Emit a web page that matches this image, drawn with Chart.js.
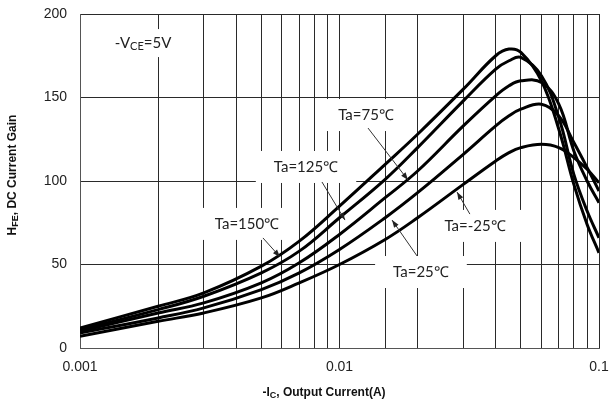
<!DOCTYPE html>
<html>
<head>
<meta charset="utf-8">
<script src="https://cdn.jsdelivr.net/npm/chart.js@4.4.1/dist/chart.umd.min.js"></script>
<style>
  html, body { margin: 0; padding: 0; background: #fff; }
  #wrap { width: 609px; height: 408px; }
</style>
</head>
<body>
<div id="wrap"><canvas id="grafico" width="609" height="408"></canvas></div>
<script>
// -Ic (A)
const corrente = [0.001, 0.002, 0.003, 0.005, 0.007, 0.01, 0.015, 0.02, 0.03, 0.04, 0.045, 0.05, 0.06, 0.07, 0.08, 0.09, 0.1];
// hFE para cada temperatura
const hfe150 = [12, 25, 33, 49, 64, 85, 110, 128, 155, 175, 179, 177, 160, 131, 98, 74, 57];
const hfe125 = [11, 23, 31, 45, 58, 78, 101, 120, 148, 167, 172, 174, 163, 138, 104, 82, 66];
const hfe75 = [10, 21, 27, 39, 51, 68, 90, 106, 133, 151, 157, 160, 159, 146, 118, 100, 87];
const hfe25 = [9, 18, 24, 35, 45, 59, 78, 93, 116, 133, 139, 143, 146, 139, 123, 108, 94];
const hfeM25 = [7, 16, 21, 30, 39, 50, 65, 78, 98, 112, 117, 120, 122, 120, 114, 107, 99];

const yTicks = [0, 50, 100, 150, 200];
const xLabels = [0.001, 0.01, 0.1];

// textos no grafico (x,y em coordenadas dos dados)
const rotulos = [
    { texto: 'Ta=75℃', x: 0.01265, y: 139.5, de: [0.01288, 131.7], para: [0.01836, 100.6] },
    { texto: 'Ta=125℃', x: 0.00743, y: 108.4, de: [0.00856, 99.4], para: [0.0105, 76.6] },
    { texto: 'Ta=150℃', x: 0.0044, y: 74.3, de: [0.00507, 65.9], para: [0.0059, 54.5] },
    { texto: 'Ta=-25℃', x: 0.0333, y: 73.1, de: [0.0318, 80.2], para: [0.02837, 93.4] },
    { texto: 'Ta=25℃', x: 0.0206, y: 45.5, de: [0.0199, 55.1], para: [0.01594, 76.6] }
];
const vce = { x: 0.00175, y: 182.6 };

function serie(valores) {
    return corrente.map((c, i) => ({ x: c, y: valores[i] }));
}

const fonteRotulo = '15px Lato';
const fonteEixo = 'bold 12px "Liberation Sans"';
const fonteSub = 'bold 9px "Liberation Sans"';

function caixa(ctx, cx, cy, w, h) {
    ctx.fillStyle = '#fff';
    ctx.fillRect(cx - w / 2, cy - h / 2, w, h);
}

function textoSub(ctx, partes, cxm, cy) {
    ctx.textAlign = 'left';
    ctx.textBaseline = 'middle';
    let total = 0;
    partes.forEach(p => { ctx.font = p[1]; total += ctx.measureText(p[0]).width; });
    let cx = cxm - total / 2;
    partes.forEach(p => {
        ctx.font = p[1];
        ctx.fillText(p[0], cx, cy + p[2]);
        cx += ctx.measureText(p[0]).width;
    });
}

const anotacoes = {
    id: 'anotacoes',
    beforeDatasetsDraw(chart) {
        const ctx = chart.ctx;
        const sx = chart.scales.x, sy = chart.scales.y;
        ctx.save();
        ctx.font = fonteRotulo;
        rotulos.forEach(r => {
            const w = ctx.measureText(r.texto).width + 36;
            caixa(ctx, sx.getPixelForValue(r.x), sy.getPixelForValue(r.y), w, 32);
        });
        caixa(ctx, sx.getPixelForValue(vce.x), sy.getPixelForValue(vce.y), 76, 28);
        ctx.restore();
    },
    afterDatasetsDraw(chart) {
        const ctx = chart.ctx;
        const sx = chart.scales.x, sy = chart.scales.y;
        ctx.save();
        ctx.fillStyle = '#222';
        ctx.strokeStyle = '#333';
        ctx.lineWidth = 1;
        ctx.textBaseline = 'middle';
        rotulos.forEach(r => {
            ctx.textAlign = 'center';
            ctx.font = fonteRotulo;
            ctx.fillText(r.texto, sx.getPixelForValue(r.x), sy.getPixelForValue(r.y));
            const x1 = sx.getPixelForValue(r.de[0]), y1 = sy.getPixelForValue(r.de[1]);
            const x2 = sx.getPixelForValue(r.para[0]), y2 = sy.getPixelForValue(r.para[1]);
            ctx.beginPath();
            ctx.moveTo(x1, y1);
            ctx.lineTo(x2, y2);
            ctx.stroke();
            const ang = Math.atan2(y2 - y1, x2 - x1);
            ctx.beginPath();
            ctx.moveTo(x2, y2);
            ctx.lineTo(x2 - 8 * Math.cos(ang - 0.35), y2 - 8 * Math.sin(ang - 0.35));
            ctx.lineTo(x2 - 8 * Math.cos(ang + 0.35), y2 - 8 * Math.sin(ang + 0.35));
            ctx.closePath();
            ctx.fill();
        });

        // -VCE=5V com subscrito
        textoSub(ctx, [['-V', fonteRotulo, 0], ['CE', '11px Lato', 3], ['=5V', fonteRotulo, 0]],
            sx.getPixelForValue(vce.x), sy.getPixelForValue(vce.y));

        // titulos dos eixos
        ctx.fillStyle = '#111';
        textoSub(ctx, [['-I', fonteEixo, 0], ['C', fonteSub, 3], [', Output Current(A)', fonteEixo, 0]], 324, 393);
        ctx.save();
        ctx.translate(13, 175);
        ctx.rotate(-Math.PI / 2);
        textoSub(ctx, [['H', fonteEixo, 0], ['FE', fonteSub, 3], [', DC Current Gain', fonteEixo, 0]], 0, 0);
        ctx.restore();
        ctx.restore();
    }
};

const estiloLinha = {
    borderColor: '#000',
    borderWidth: 3,
    pointRadius: 0,
    showLine: true,
    fill: false,
    tension: 0.4
};

const ctx = document.getElementById('grafico').getContext('2d');
const grafico = new Chart(ctx, {
    type: 'scatter',
    data: {
        datasets: [
            { label: 'Ta=150℃', data: serie(hfe150), ...estiloLinha },
            { label: 'Ta=125℃', data: serie(hfe125), ...estiloLinha },
            { label: 'Ta=75℃', data: serie(hfe75), ...estiloLinha },
            { label: 'Ta=25℃', data: serie(hfe25), ...estiloLinha },
            { label: 'Ta=-25℃', data: serie(hfeM25), ...estiloLinha }
        ]
    },
    options: {
        responsive: false,
        animation: false,
        layout: { padding: { top: 14, right: 10, left: 0, bottom: 0 } },
        plugins: { legend: { display: false }, tooltip: { enabled: false } },
        scales: {
            x: {
                type: 'logarithmic',
                min: 0.001,
                max: 0.1,
                afterFit: s => { s.height = 60; s.paddingLeft = 0; s.paddingRight = 0; },
                grid: { color: '#2a2a2a', lineWidth: 1, drawTicks: false },
                border: { color: '#555', width: 1 },
                ticks: {
                    autoSkip: false,
                    maxRotation: 0,
                    padding: 11,
                    color: '#222',
                    font: { family: 'Liberation Sans', size: 14 },
                    callback: v => {
                        const hit = xLabels.find(l => Math.abs(v - l) / l < 1e-6);
                        return hit !== undefined ? String(hit) : '';
                    }
                }
            },
            y: {
                min: 0,
                max: 200,
                afterFit: s => { s.width = 80; s.paddingTop = 0; s.paddingBottom = 0; },
                afterBuildTicks: s => { s.ticks = yTicks.map(v => ({ value: v })); },
                grid: { color: '#2a2a2a', lineWidth: 1, drawTicks: false },
                border: { color: '#555', width: 1 },
                ticks: {
                    padding: 13,
                    color: '#222',
                    font: { family: 'Liberation Sans', size: 14 }
                }
            }
        }
    },
    plugins: [anotacoes]
});
</script>
</body>
</html>
